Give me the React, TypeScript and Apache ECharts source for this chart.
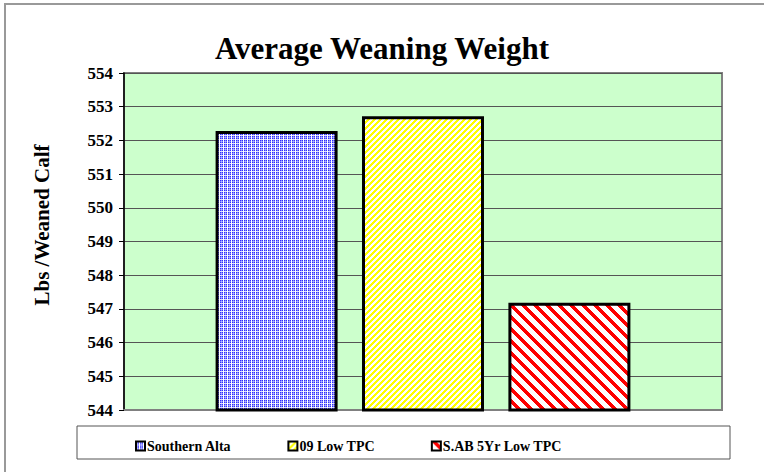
import React, { useEffect, useRef } from "react";
import * as echarts from "echarts";

const titleText = "Average Weaning Weight";
const yAxisName = "Lbs /Weaned Calf";
const categories = [""];
const seriesNames = ["Southern Alta", "09 Low TPC", "S.AB 5Yr Low TPC"];
const southernAlta = [552.28];
const lowTPC09 = [552.72];
const sab5yrLowTPC = [547.18];
const yMin = 544;
const yMax = 554;
const yInterval = 1;

function makeTile(size: number, fn: (x: number, y: number) => string): string {
  const c = document.createElement("canvas");
  c.width = size;
  c.height = size;
  const ctx = c.getContext("2d")!;
  for (let y = 0; y < size; y++) {
    for (let x = 0; x < size; x++) {
      ctx.fillStyle = fn(x, y);
      ctx.fillRect(x, y, 1, 1);
    }
  }
  return c.toDataURL();
}

function dotTile() {
  const rows = [
    ["#3030ff", "#8888ff", "#3030ff", "#ffffff"],
    ["#8888ff", "#b8b8ff", "#8888ff", "#ffffff"],
    ["#3030ff", "#8888ff", "#3030ff", "#ffffff"],
    ["#e0e0ff", "#e0e0ff", "#e0e0ff", "#ffffff"],
  ];
  return makeTile(4, (x, y) => rows[y][x]);
}

function stripeTile(size: number, width: number, color: string, dir: 1 | -1) {
  return makeTile(size, (x, y) => {
    const v = dir === 1 ? (x + y) % size : (((x - y) % size) + size) % size;
    return v < width ? color : "#ffffff";
  });
}

export default function App() {
  const ref = useRef<HTMLDivElement>(null);
  useEffect(() => {
    if (!ref.current) return;
    const chart = echarts.init(ref.current, null, { renderer: "svg" });
    const pat = (img: string, s: number) => ({
      image: img,
      repeat: "repeat",
      imageWidth: s,
      imageHeight: s,
    });
    const p1 = pat(dotTile(), 4);
    const p2 = pat(stripeTile(6, 3, "#ffff00", 1), 6);
    const p3 = pat(stripeTile(12, 5, "#ff0000", -1), 12);
    const fonts = "'Liberation Serif', 'DejaVu Serif', serif";
    const mk = (name: string, data: number[], fill: any) => ({
      name,
      type: "bar",
      data,
      barWidth: 122,
      barGap: "20%",
      itemStyle: { color: fill, borderColor: "#000", borderWidth: 3 },
    });
    chart.setOption({
      animation: false,
      backgroundColor: "#ffffff",
      title: {
        text: titleText,
        left: "center",
        top: 28,
        textStyle: { fontFamily: fonts, fontSize: 31, fontWeight: "bold", color: "#000" },
      },
      graphic: [
        {
          type: "rect",
          shape: { x: 5, y: 4, width: 800, height: 600 },
          style: { fill: "none", stroke: "#999999", lineWidth: 2 },
          silent: true,
          z: -1,
        },
        {
          type: "rect",
          shape: { x: 77, y: 426, width: 653, height: 33 },
          style: { fill: "none", stroke: "#555555", lineWidth: 1 },
          silent: true,
        },
        {
          type: "text",
          x: 42,
          y: 225,
          rotation: Math.PI / 2,
          style: {
            text: yAxisName,
            align: "center",
            verticalAlign: "middle",
            fontFamily: fonts,
            fontSize: 21,
            fontWeight: "bold",
            fill: "#000",
          },
        },
      ],
      legend: {
        left: 130,
        top: 434,
        itemWidth: 9,
        itemHeight: 9,
        itemGap: 56,
        icon: "rect",
        itemStyle: { borderWidth: 2, borderColor: "#000" },
        textStyle: { fontFamily: fonts, fontSize: 14, fontWeight: "bold", color: "#000", padding: [0, 0, 0, -3] },
        data: seriesNames,
      },
      grid: {
        left: 124,
        right: 42,
        top: 73,
        bottom: 62,
        show: true,
        backgroundColor: "#ccffcc",
        borderColor: "#808080",
        borderWidth: 2,
      },
      xAxis: {
        type: "category",
        data: categories,
        axisLine: { lineStyle: { color: "#808080", width: 2 } },
        axisTick: { show: false },
        axisLabel: { show: false },
      },
      yAxis: {
        type: "value",
        min: yMin,
        max: yMax,
        interval: yInterval,
        axisLine: { show: true, lineStyle: { color: "#000", width: 1.5 } },
        axisTick: { show: true, length: 5, lineStyle: { color: "#000" } },
        axisLabel: { margin: 11, fontFamily: fonts, fontSize: 17, fontWeight: "bold", color: "#000" },
        splitLine: { lineStyle: { color: "#555555", width: 1 } },
      },
      series: [
        mk(seriesNames[0], southernAlta, p1),
        mk(seriesNames[1], lowTPC09, p2),
        mk(seriesNames[2], sab5yrLowTPC, p3),
      ],
    });
    return () => chart.dispose();
  }, []);
  return <div ref={ref} style={{ width: 764, height: 472, position: "absolute", left: 0, top: 0 }} />;
}
